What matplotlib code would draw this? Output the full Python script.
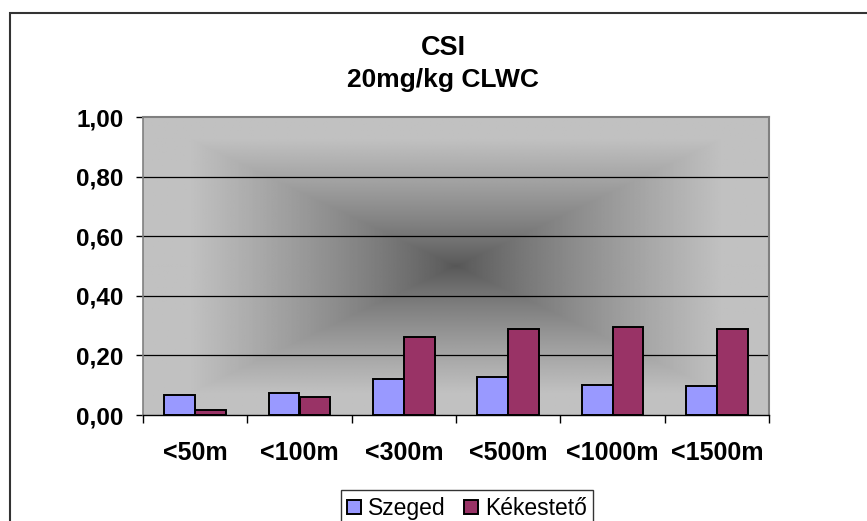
import numpy as np
import matplotlib.pyplot as plt
from matplotlib.patches import Rectangle

plt.rcParams['font.family'] = ['Liberation Sans', 'DejaVu Sans']

categories = ['<50m', '<100m', '<300m', '<500m', '<1000m', '<1500m']
szeged = [0.066, 0.073, 0.121, 0.127, 0.102, 0.097]
kekesteto = [0.018, 0.060, 0.261, 0.290, 0.296, 0.290]
yticks = [0.0, 0.2, 0.4, 0.6, 0.8, 1.0]

W, H = 867, 521
fig = plt.figure(figsize=(W/100, H/100), dpi=100)
ax = fig.add_axes([143/W, 1-415/H, (769-143)/W, (415-117)/H])

# outer chart frame (runs off right/bottom edge like the original)
fig.patches.append(Rectangle((10/W, -0.1), 1.2, 1-13/H+0.1, transform=fig.transFigure,
                             fill=False, edgecolor='#333333', lw=1.5, zorder=0))

n = len(categories)
x = np.arange(n)
w = 0.294

ax.set_xlim(-0.5, n-0.5)
ax.set_ylim(0, 1)

# "from center" gradient background
gx = np.linspace(-1, 1, 400)
gy = np.linspace(-1, 1, 300)
GX, GY = np.meshgrid(gx, gy)
r = np.maximum(np.abs(GX), np.abs(GY))
t = np.clip(r/0.85, 0, 1)**0.85
grad = 0.34 + (0.755-0.34)*t
ax.imshow(grad, cmap='gray', vmin=0, vmax=1, extent=[-0.5, n-0.5, 0, 1],
          aspect='auto', zorder=0, interpolation='bilinear')

for yv in yticks[1:-1]:
    ax.axhline(yv, color='black', lw=0.9, zorder=1)

ax.bar(x - w/2, szeged, w, color='#9999FF', edgecolor='black', lw=1.4, zorder=3, label='Szeged')
ax.bar(x + w/2, kekesteto, w, color='#993366', edgecolor='black', lw=1.4, zorder=3, label='Kékestető')

ax.set_yticks(yticks)
ax.set_yticklabels([f'{v:.2f}'.replace('.', ',') for v in yticks], fontsize=17.5, fontweight='bold')
ax.set_xticks(x)
ax.set_xticklabels(categories, fontsize=18, fontweight='bold')
ax.set_xticks(np.arange(-0.5, n), minor=True)
ax.tick_params(axis='x', which='major', length=0, pad=19)
ax.tick_params(axis='x', which='minor', length=6, width=1, direction='out')
ax.tick_params(axis='y', length=5, width=1, direction='out', pad=9)

for s in ['top', 'right']:
    ax.spines[s].set_color('#808080')
    ax.spines[s].set_linewidth(1.5)
ax.spines['left'].set_color('#808080')
ax.spines['left'].set_linewidth(1.2)
ax.spines['bottom'].set_color('black')
ax.spines['bottom'].set_linewidth(1)

fig.text(443/W, 1-48/H, 'CSI', ha='center', va='center', fontsize=19.5, fontweight='bold')
fig.text(443/W, 1-80/H, '20mg/kg CLWC', ha='center', va='center', fontsize=19, fontweight='bold')

leg = fig.legend(loc='upper center', bbox_to_anchor=(467/W, 1-490/H), ncol=2, fontsize=16.5,
                 frameon=True, fancybox=False, handlelength=0.6, handleheight=0.6,
                 handletextpad=0.3, columnspacing=0.8, borderpad=0.3, borderaxespad=0)
leg.get_frame().set_edgecolor('black')
leg.get_frame().set_linewidth(1)

fig.savefig('out.png', dpi=100)
